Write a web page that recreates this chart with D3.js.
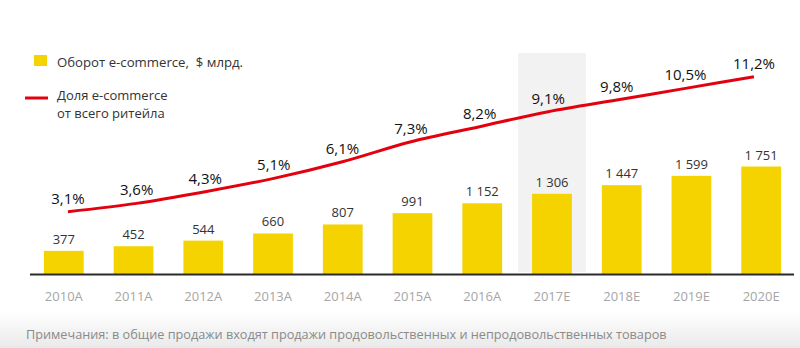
<!DOCTYPE html>
<html><head><meta charset="utf-8">
<script src="https://cdn.jsdelivr.net/npm/d3@7"></script>
<style>body{margin:0;background:#fff}svg{display:block}text{font-family:"Open Sans",sans-serif}</style>
</head><body><svg id="c" width="800" height="348"></svg>
<script>
const years = ["2010A","2011A","2012A","2013A","2014A","2015A","2016A","2017E","2018E","2019E","2020E"];
const turnover = [377,452,544,660,807,991,1152,1306,1447,1599,1751];
const turnoverLabels = ["377","452","544","660","807","991","1 152","1 306","1 447","1 599","1 751"];
const share = [3.1,3.6,4.3,5.1,6.1,7.3,8.2,9.1,9.8,10.5,11.2];
const shareLabels = ["3,1%","3,6%","4,3%","5,1%","6,1%","7,3%","8,2%","9,1%","9,8%","10,5%","11,2%"];
const highlightYear = "2017E";
const legendBar = "Оборот e-commerce,  $ млрд.";
const legendLine = ["Доля e-commerce","от всего ритейла"];
const note = "Примечания: в общие продажи входят продажи продовольственных и непродовольственных товаров";

const svg = d3.select("#c");
const defs = svg.append("defs");
const g = defs.append("linearGradient").attr("id","bg").attr("x1",0).attr("y1",0).attr("x2",0).attr("y2",1);
g.append("stop").attr("offset","0").attr("stop-color","#ffffff");
g.append("stop").attr("offset","1").attr("stop-color","#e9e9e9");
svg.append("rect").attr("x",0).attr("y",312).attr("width",800).attr("height",36).attr("fill","url(#bg)");

const baseY = 274;
const x = d3.scaleBand().domain(years).range([30,795]).paddingInner(0.43).paddingOuter(0.2);
const y = d3.scaleLinear().domain([0,1751]).range([baseY, baseY-107.5]);
const xl = d3.scalePoint().domain(years).range([68,754]);
const yl = d3.scaleLinear().domain([0,11.2]).range([263.4, 76.7]);

// highlight band
svg.append("rect").attr("x", x(highlightYear)+x.bandwidth()/2-34).attr("y",53)
  .attr("width",68).attr("height",baseY-53-2).attr("fill","#f2f2f2");

svg.selectAll("rect.bar").data(years).join("rect").attr("class","bar")
  .attr("x",d=>x(d)).attr("width",x.bandwidth())
  .attr("y",(d,i)=>y(turnover[i])).attr("height",(d,i)=>baseY-y(turnover[i]))
  .attr("fill","#f5d300");

svg.append("line").attr("x1",30).attr("x2",794).attr("y1",baseY+0.5).attr("y2",baseY+0.5)
  .attr("stroke","#2a2a2a").attr("stroke-width",2);

svg.selectAll("text.val").data(years).join("text").attr("class","val")
  .attr("x",d=>x(d)+x.bandwidth()/2).attr("y",(d,i)=>y(turnover[i])-7)
  .attr("text-anchor","middle").attr("font-size",13).attr("fill","#333")
  .text((d,i)=>turnoverLabels[i]);

svg.selectAll("text.yr").data(years).join("text").attr("class","yr")
  .attr("x",d=>x(d)+x.bandwidth()/2).attr("y",301)
  .attr("text-anchor","middle").attr("font-size",13).attr("fill","#a6a6a6")
  .text(d=>d);

const line = d3.line().x((d,i)=>xl(years[i])).y(d=>yl(d)).curve(d3.curveMonotoneX);
svg.append("path").datum(share).attr("d",line).attr("fill","none")
  .attr("stroke","#e3000f").attr("stroke-width",3);

svg.selectAll("text.pct").data(years).join("text").attr("class","pct")
  .attr("x",d=>xl(d)).attr("y",(d,i)=>yl(share[i])-8)
  .attr("text-anchor","middle").attr("font-size",15).attr("fill","#111")
  .text((d,i)=>shareLabels[i]);

// legend
svg.append("rect").attr("x",34).attr("y",55).attr("width",13).attr("height",11).attr("fill","#f5d300");
svg.append("text").attr("x",57).attr("y",67).attr("font-size",13.2).attr("fill","#333")
  .style("white-space","pre").text(legendBar);
svg.append("line").attr("x1",25).attr("x2",48).attr("y1",98).attr("y2",98).attr("stroke","#e3000f").attr("stroke-width",3);
svg.selectAll("text.lg").data(legendLine).join("text").attr("class","lg")
  .attr("x",57).attr("y",(d,i)=>i?118:100).attr("font-size",13).attr("fill","#333").text(d=>d);

svg.append("text").attr("x",26).attr("y",339).attr("font-size",12.7).attr("fill","#8a8a8a").text(note);
</script></body></html>
